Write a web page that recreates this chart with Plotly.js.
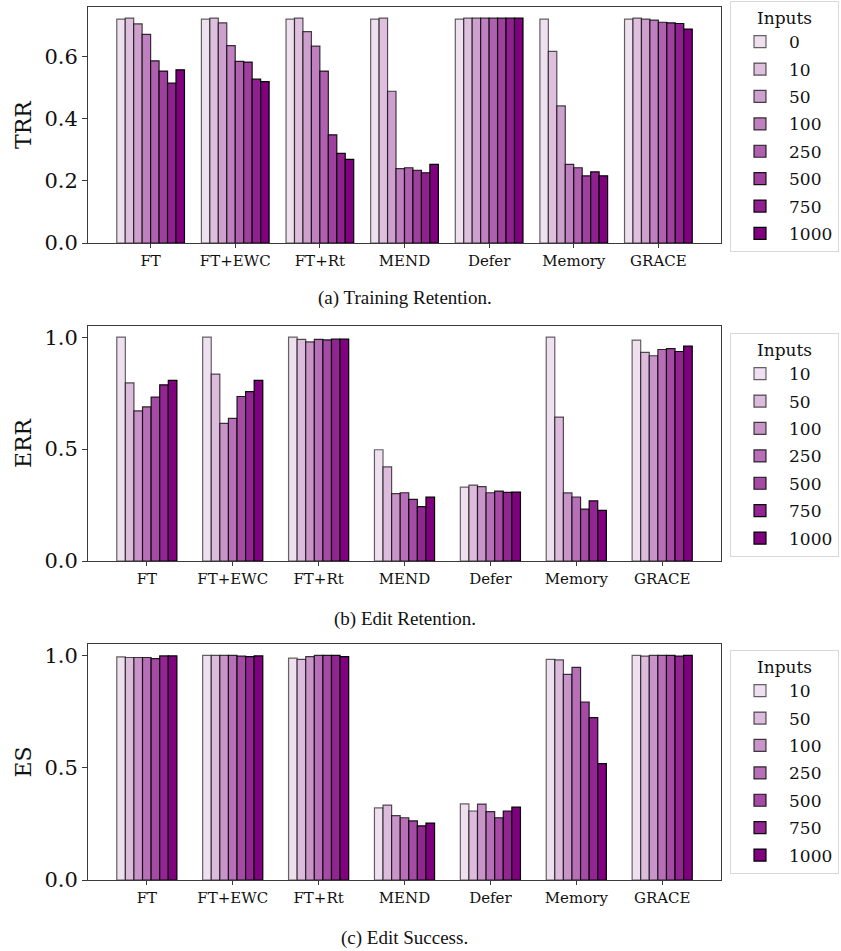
<!DOCTYPE html>
<html>
<head>
<meta charset="utf-8">
<script src="https://cdn.plot.ly/plotly-3.0.1.min.js"></script>
<style>html,body{margin:0;padding:0;background:#fff;}#chart{width:841px;height:951px;}</style>
</head>
<body>
<div id="chart"></div>
<script>
// ---- Data ----
const methods = ["FT", "FT+EWC", "FT+Rt", "MEND", "Defer", "Memory", "GRACE"];

const inputsTRR = ["0", "10", "50", "100", "250", "500", "750", "1000"];
const inputsEdit = ["10", "50", "100", "250", "500", "750", "1000"];

// TRR values, one array per method, ordered by inputsTRR
const trrFT     = [0.720, 0.723, 0.705, 0.671, 0.586, 0.553, 0.514, 0.557];
const trrFTEWC  = [0.720, 0.723, 0.708, 0.635, 0.584, 0.582, 0.527, 0.519];
const trrFTRt   = [0.720, 0.723, 0.680, 0.633, 0.553, 0.348, 0.288, 0.269];
const trrMEND   = [0.720, 0.723, 0.488, 0.239, 0.242, 0.234, 0.226, 0.253];
const trrDefer  = [0.720, 0.723, 0.723, 0.723, 0.723, 0.723, 0.723, 0.723];
const trrMemory = [0.720, 0.616, 0.441, 0.253, 0.242, 0.216, 0.229, 0.216];
const trrGRACE  = [0.720, 0.723, 0.720, 0.717, 0.710, 0.708, 0.706, 0.688];

// ERR values, ordered by inputsEdit
const errFT     = [1.000, 0.796, 0.671, 0.689, 0.732, 0.787, 0.807];
const errFTEWC  = [1.000, 0.835, 0.615, 0.637, 0.735, 0.757, 0.807];
const errFTRt   = [1.000, 0.990, 0.979, 0.990, 0.988, 0.991, 0.991];
const errMEND   = [0.497, 0.421, 0.301, 0.305, 0.275, 0.243, 0.285];
const errDefer  = [0.330, 0.339, 0.332, 0.305, 0.312, 0.307, 0.308];
const errMemory = [1.000, 0.643, 0.304, 0.286, 0.232, 0.269, 0.226];
const errGRACE  = [0.987, 0.932, 0.917, 0.945, 0.949, 0.936, 0.960];

// ES values, ordered by inputsEdit
const esFT     = [0.993, 0.990, 0.990, 0.990, 0.985, 0.997, 0.997];
const esFTEWC  = [0.999, 0.999, 0.999, 0.999, 0.996, 0.994, 0.997];
const esFTRt   = [0.987, 0.982, 0.994, 0.999, 0.999, 0.999, 0.994];
const esMEND   = [0.321, 0.333, 0.286, 0.277, 0.263, 0.241, 0.253];
const esDefer  = [0.339, 0.307, 0.338, 0.304, 0.277, 0.307, 0.324];
const esMemory = [0.982, 0.979, 0.915, 0.946, 0.792, 0.722, 0.518];
const esGRACE  = [0.999, 0.996, 0.999, 0.999, 0.999, 0.996, 0.999];

// Palettes (light -> purple)
const colors8 = ["#eee0ee", "#dec0de", "#cea0ce", "#bf80bf", "#af60af", "#9f409f", "#902090", "#800080"];
const colors7 = ["#eee0ee", "#dcbbdc", "#c995c9", "#b770b7", "#a54ba5", "#922592", "#800080"];

// ---- Build traces ----
const trrRows = [trrFT, trrFTEWC, trrFTRt, trrMEND, trrDefer, trrMemory, trrGRACE];
const errRows = [errFT, errFTEWC, errFTRt, errMEND, errDefer, errMemory, errGRACE];
const esRows  = [esFT, esFTEWC, esFTRt, esMEND, esDefer, esMemory, esGRACE];

const SERIF = "DejaVu Serif";
const BW = 0.1;
const traces = [];

function addPanel(rows, inputs, colors, xa, ya, legendId) {
  const n = inputs.length;
  inputs.forEach((lab, i) => {
    const edgeAlpha = 0.6 + 0.4 * i / (n - 1);
    traces.push({
      type: "bar",
      name: lab,
      x: methods,
      y: rows.map(r => r[i]),
      xaxis: xa, yaxis: ya,
      legend: legendId,
      legendgroup: legendId + "_" + lab,
      width: BW,
      offset: -n * BW / 2 + i * BW,
      marker: {color: colors[i], line: {color: "rgba(0,0,0," + edgeAlpha.toFixed(2) + ")", width: 1.2}},
      hoverinfo: "x+y+name"
    });
  });
}
addPanel(trrRows, inputsTRR, colors8, "x", "y", "legend");
addPanel(errRows, inputsEdit, colors7, "x2", "y2", "legend2");
addPanel(esRows, inputsEdit, colors7, "x3", "y3", "legend3");

// ---- Layout ----
const H = 951;
const py = p => 1 - p / H;  // pixel-from-top to paper fraction

function xAxis(anchor, range) {
  return {
    anchor: anchor, domain: [0, 1], type: "category", range: range,
    showline: true, mirror: true, linecolor: "#3a3a3a", linewidth: 1,
    ticks: "outside", ticklen: 4, tickwidth: 1, tickcolor: "#3a3a3a",
    tickfont: {family: SERIF, size: 15, color: "#111"},
    showgrid: false, zeroline: false, automargin: false, fixedrange: true
  };
}
function yAxis(anchor, dom, range, dtick, title) {
  return {
    anchor: anchor, domain: dom, range: range, dtick: dtick, tick0: 0, tickformat: ".1f",
    showline: true, mirror: true, linecolor: "#3a3a3a", linewidth: 1,
    ticks: "outside", ticklen: 5, tickwidth: 1, tickcolor: "#3a3a3a",
    tickfont: {family: SERIF, size: 21, color: "#111"},
    title: {text: title, font: {family: SERIF, size: 22, color: "#111"}, standoff: 6},
    showgrid: false, zeroline: false, automargin: false, fixedrange: true
  };
}
function legendBox(top) {
  return {
    x: (730 - 88) / 633, xanchor: "left", y: py(top), yanchor: "top",
    bgcolor: "#fff", bordercolor: "#d8d8d8", borderwidth: 1,
    font: {family: SERIF, size: 17, color: "#111"},
    title: {text: "Inputs", side: "top center", font: {family: SERIF, size: 17, color: "#111"}},
    traceorder: "grouped", tracegroupgap: 2.3, itemwidth: 48
  };
}

const layout = {
  width: 841, height: 951,
  margin: {l: 88, r: 120, t: 0, b: 0, pad: 0},
  paper_bgcolor: "#fff", plot_bgcolor: "#fff",
  barmode: "overlay",
  showlegend: true,
  xaxis: xAxis("y", [-0.74, 6.74]),
  yaxis: yAxis("x", [py(243), py(7)], [0, 0.759], 0.2, "TRR"),
  xaxis2: xAxis("y2", [-0.685, 6.685]),
  yaxis2: yAxis("x2", [py(561), py(326)], [0, 1.05], 0.5, "ERR"),
  xaxis3: xAxis("y3", [-0.685, 6.685]),
  yaxis3: yAxis("x3", [py(880), py(644)], [0, 1.05], 0.5, "ES"),
  legend: legendBox(1),
  legend2: legendBox(333),
  legend3: legendBox(650),
  annotations: [
    {text: "(a) Training Retention.", x: 0.5, y: py(298)},
    {text: "(b) Edit Retention.", x: 0.5, y: py(619)},
    {text: "(c) Edit Success.", x: 0.5, y: py(938)}
  ].map(a => Object.assign(a, {xref: "paper", yref: "paper", xanchor: "center", yanchor: "middle",
    showarrow: false, font: {family: "Liberation Serif", size: 19, color: "#111"}}))
};

Plotly.newPlot("chart", traces, layout, {displayModeBar: false, staticPlot: true});
</script>
</body>
</html>
